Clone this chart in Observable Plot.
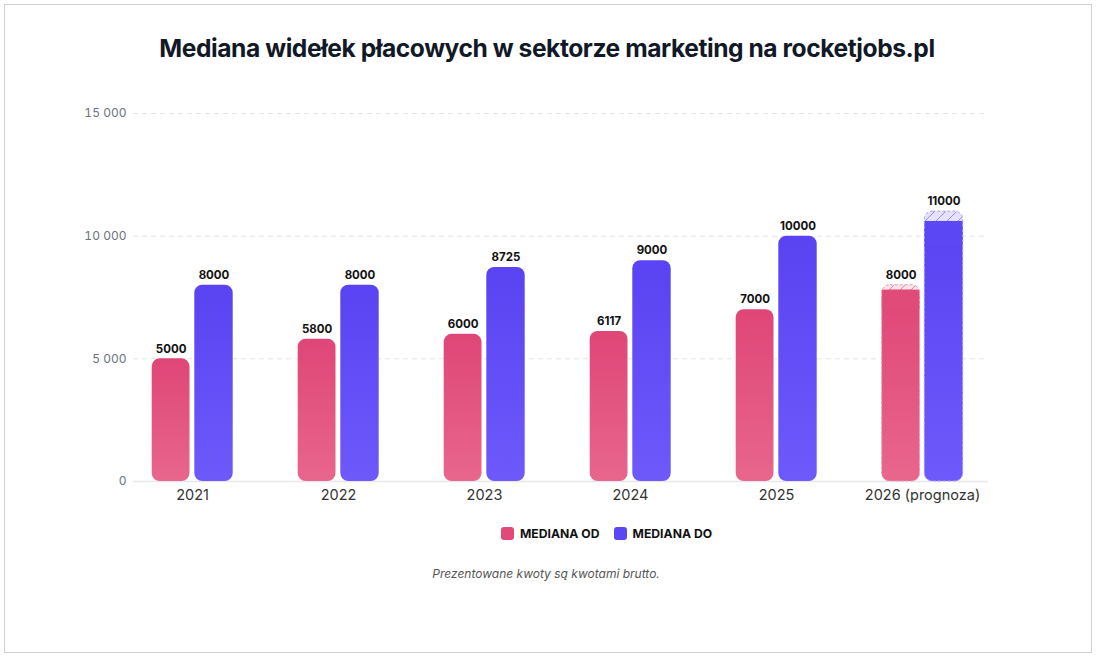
<!DOCTYPE html>
<html>
<head>
<meta charset="utf-8">
<script src="https://cdn.jsdelivr.net/npm/d3@7"></script>
<script src="https://cdn.jsdelivr.net/npm/@observablehq/plot@0.6"></script>
<style>
  html, body { margin: 0; padding: 0; background: #fff; }
  body { width: 1100px; height: 658px; position: relative; overflow: hidden; font-family: Inter, "Noto Sans", sans-serif; }
  #frame { position: absolute; left: 4px; top: 4px; width: 1088px; height: 649px; border: 1.5px solid #d0d0d0; box-sizing: border-box; }
  #title { position: absolute; left: 0; width: 1094px; top: 33px; text-align: center; font-size: 24.6px; font-weight: 700; color: #111827; letter-spacing: -0.45px; }
  #chart { position: absolute; left: 0; top: 90px; }
  #legend { position: absolute; left: 501px; top: 526px; display: flex; gap: 14px; font-size: 12.2px; font-weight: 700; color: #111; }
  #legend .item { display: flex; align-items: center; gap: 6px; }
  #legend .sw { width: 13px; height: 13px; border-radius: 3px; display: inline-block; }
  #caption { position: absolute; left: 0; width: 1092px; top: 566px; text-align: center; font-size: 12px; font-style: italic; color: #555; }
</style>
</head>
<body>
<div id="frame"></div>
<div id="title">Mediana widełek płacowych w sektorze marketing na rocketjobs.pl</div>
<div id="chart"></div>
<div id="legend"></div>
<div id="caption">Prezentowane kwoty są kwotami brutto.</div>
<script>
const years = ["2021", "2022", "2023", "2024", "2025", "2026 (prognoza)"];
const medianaOd = [5000, 5800, 6000, 6117, 7000, 8000];
const medianaDo = [8000, 8000, 8725, 9000, 10000, 11000];
const isForecast = [false, false, false, false, false, true];
// solid (non-hatched) part of the bars
const solidOd = [5000, 5800, 6000, 6117, 7000, 7800];
const solidDo = [8000, 8000, 8725, 9000, 10000, 10600];
const yTicks = [0, 5000, 10000, 15000];
const seriesNames = ["MEDIANA OD", "MEDIANA DO"];
const seriesColors = ["#e04a79", "#5b46f4"];

const rows = years.map((y, i) => ({
  year: y, od: medianaOd[i], do: medianaDo[i], forecast: isForecast[i],
  sOd: solidOd[i], sDo: solidDo[i]
}));
const actual = rows.filter(d => !d.forecast);
const fc = rows.filter(d => d.forecast);

// bar geometry inside band (band = 146 px)
const odInset = {insetLeft: 32.7, insetRight: 75.5};
const doInset = {insetLeft: 75.3, insetRight: 32.3};
const fmt = v => v === 0 ? "0" : d3.format(",")(v).replace(/,/g, " ");

const plot = Plot.plot({
  width: 1100,
  height: 420,
  marginTop: 23,
  marginBottom: 29,
  marginLeft: 133,
  marginRight: 112,
  style: {fontFamily: "Inter, sans-serif", background: "transparent", overflow: "visible"},
  x: {domain: years, range: [119, 995], padding: 0, label: null},
  y: {domain: [0, 15000], label: null},
  marks: [
    Plot.ruleY(yTicks.filter(t => t > 0), {stroke: "#e3e3e3", strokeDasharray: "5,4", strokeWidth: 1}),
    Plot.ruleY([0], {stroke: "#e8e8ec", strokeWidth: 1.5}),
    Plot.axisY({ticks: yTicks, tickSize: 0, tickPadding: 7, tickFormat: fmt, fontSize: 12, fill: "#6b7280", label: null}),
    Plot.axisX({tickSize: 0, tickPadding: 8, fontSize: 14.5, fill: "#333", label: null}),
    // actual bars
    Plot.barY(actual, {x: "year", y: "od", fill: "url(#gOd)", rx: 8, ...odInset}),
    Plot.barY(actual, {x: "year", y: "do", fill: "url(#gDo)", rx: 8, ...doInset}),
    // forecast: hatched full bars
    Plot.barY(fc, {x: "year", y: "od", fill: "url(#hOd)", rx: 8, ...odInset}),
    Plot.barY(fc, {x: "year", y: "do", fill: "url(#hDo)", rx: 8, ...doInset}),
    // forecast: solid parts
    Plot.barY(fc, {x: "year", y: "sOd", fill: "url(#gOd)", rx: 8, ...odInset}),
    Plot.barY(fc, {x: "year", y: "sDo", fill: "url(#gDo)", rx: 8, ...doInset}),
    Plot.barY(fc, {x: "year", y1: d => d.sOd * 0.9, y2: "sOd", fill: "#e04b7a", ...odInset}),
    Plot.barY(fc, {x: "year", y1: d => d.sDo * 0.9, y2: "sDo", fill: "#5c47f4", ...doInset}),
    // forecast: dashed outlines
    Plot.barY(fc, {x: "year", y: "od", fill: "none", stroke: "#dba2b5", strokeDasharray: "3,2", strokeWidth: 1, rx: 8, ...odInset}),
    Plot.barY(fc, {x: "year", y: "do", fill: "none", stroke: "#aaa0f3", strokeDasharray: "3,2", strokeWidth: 1, rx: 8, ...doInset}),
    // value labels
    Plot.text(rows, {x: "year", y: "od", text: d => String(d.od), dx: -21.4, dy: -10, fontSize: 11.5, fontWeight: 700, fill: "#111"}),
    Plot.text(rows, {x: "year", y: "do", text: d => String(d.do), dx: 21.5, dy: -10, fontSize: 11.5, fontWeight: 700, fill: "#111"})
  ]
});

const svg = d3.select(plot);
const defs = svg.insert("defs", ":first-child");
function grad(id, top, bottom) {
  const g = defs.append("linearGradient").attr("id", id).attr("x1", 0).attr("y1", 0).attr("x2", 0).attr("y2", 1);
  g.append("stop").attr("offset", "0%").attr("stop-color", top);
  g.append("stop").attr("offset", "100%").attr("stop-color", bottom);
}
grad("gOd", "#df4677", "#e8668d");
grad("gDo", "#5943f2", "#6e59fb");
function hatch(id, bg, line) {
  const s = 11;
  const p = defs.append("pattern").attr("id", id).attr("patternUnits", "userSpaceOnUse")
    .attr("width", s).attr("height", s);
  p.append("rect").attr("width", s).attr("height", s).attr("fill", bg);
  p.append("path").attr("d", `M0,${s} L${s},0 M-2,2 L2,-2 M${s-2},${s+2} L${s+2},${s-2}`).attr("stroke", line).attr("stroke-width", 1);
}
hatch("hOd", "#f8e3ea", "#d98aa3");
hatch("hDo", "#e6e2fd", "#958ae6");

document.getElementById("chart").appendChild(plot);

const legend = d3.select("#legend");
seriesNames.forEach((n, i) => {
  const it = legend.append("div").attr("class", "item");
  it.append("span").attr("class", "sw").style("background", seriesColors[i]);
  it.append("span").text(n);
});
</script>
</body>
</html>
